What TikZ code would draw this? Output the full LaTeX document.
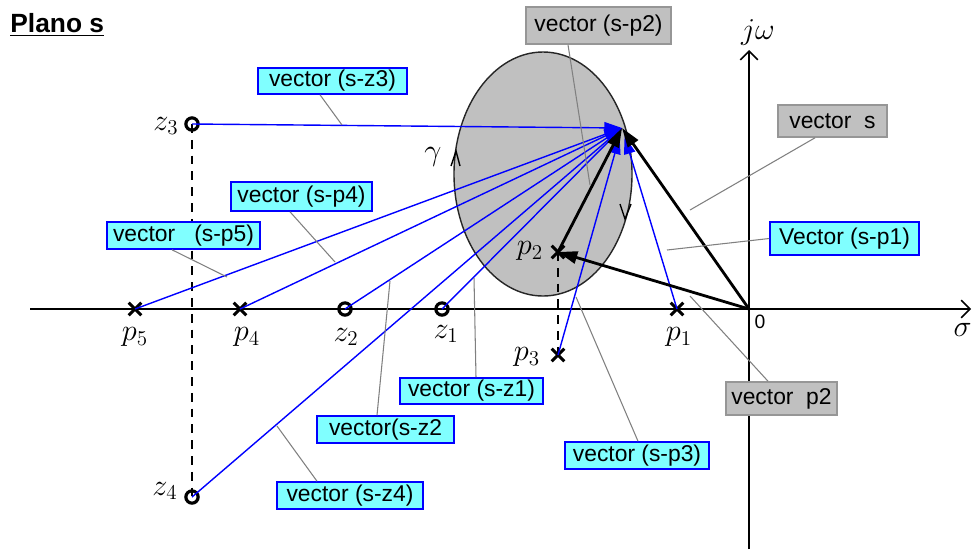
\documentclass[tikz,border=0pt]{standalone}
\usepackage{fontspec}
\setmainfont{Liberation Sans}
\usetikzlibrary{arrows.meta,shapes.misc,shapes.geometric}
\definecolor{cyanfill}{RGB}{128,255,255}
\definecolor{boxgray}{RGB}{192,192,192}
\definecolor{boxedge}{RGB}{150,150,150}
\newcommand{\pxu}{0.02cm}
\begin{document}
\begin{tikzpicture}[x=0.02cm,y=-0.02cm,
  bluevec/.style={blue, line width=0.8pt, -{Triangle[length=10pt,width=6.5pt]}},
  blackvec/.style={black, line width=1.6pt, -{Triangle[length=11pt,width=7pt]}},
  axisline/.style={black, line width=0.9pt, -{Straight Barb[length=5pt,width=10pt]}},
  dashline/.style={black, line width=0.9pt, dash pattern=on 5pt off 4pt},
  xmark/.style={cross out, draw, line width=1.7pt, minimum size=5.5pt, inner sep=0pt},
  omark/.style={circle, draw, line width=1.8pt, minimum size=7pt, inner sep=0pt},
  cyanbox/.style={draw=blue, fill=cyanfill, line width=0.9pt, inner sep=0pt, font=\fontsize{13}{15}\selectfont},
  graybox/.style={draw=boxedge, fill=boxgray, line width=0.9pt, inner sep=0pt, font=\fontsize{13}{15}\selectfont},
  leader/.style={gray, line width=0.6pt},
  mathlbl/.style={inner sep=0pt, font=\fontsize{18}{20}\selectfont},
  chevron/.style={black, line width=0.8pt},
]
\useasboundingbox[fill=white] (0,0) rectangle (973,549);

% region (ellipse)
\node[ellipse, draw=black!85, fill=boxgray, line width=0.8pt, inner sep=0pt,
      minimum width=178*\pxu, minimum height=244*\pxu] (region) at (543,174) {};

% gamma direction chevrons
\draw[chevron] (451,166) -- (456,151) -- (460,166);
\draw[chevron] (620,204) -- (625,219) -- (631,204);
\node[mathlbl] (gamma) at (433,157) {$\gamma$};

% axes
\coordinate (O) at (749,309);
\coordinate (xleft) at (30,309);
\coordinate (xright) at (971,309);
\coordinate (ybottom) at (749,549);
\coordinate (ytop) at (749,50);
\draw[axisline] (xleft) -- (xright);
\draw[axisline] (ybottom) -- (ytop);
\node[mathlbl] (jw) at (758,32) {$j\omega$};
\node[mathlbl, anchor=east] (sigma) at (972,330) {$\sigma$};
\node[inner sep=0pt, font=\fontsize{11}{12}\selectfont] (zero) at (760,322) {0};

% point s
\coordinate (s) at (622,128);

% poles and zeros
\node[omark] (z3) at (192,124) {};
\node[omark] (z4) at (192,497) {};
\node[xmark] (p5) at (135,309) {};
\node[xmark] (p4) at (240,309) {};
\node[omark] (z2) at (345,309) {};
\node[omark] (z1) at (442,309) {};
\node[xmark] (p2) at (558,252) {};
\node[xmark] (p3) at (558,355) {};
\node[xmark] (p1) at (677,309) {};

\node[mathlbl] (lz3) at (166,126) {$z_3$};
\node[mathlbl] (lz4) at (165,491) {$z_4$};
\node[mathlbl] (lp5) at (135,337) {$p_5$};
\node[mathlbl] (lp4) at (247,337) {$p_4$};
\node[mathlbl] (lz2) at (346,337) {$z_2$};
\node[mathlbl] (lz1) at (446,334) {$z_1$};
\node[mathlbl] (lp1) at (679,337) {$p_1$};
\node[mathlbl] (lp2) at (530,251) {$p_2$};
\node[mathlbl] (lp3) at (527,357) {$p_3$};

% dashed projections
\draw[dashline] (z3.center) -- (z4.center);
\draw[dashline] (p2.center) -- (p3.center);

% blue vectors
\draw[bluevec] (z3.center) -- (s);
\draw[bluevec] (z4.center) -- (s);
\draw[bluevec] (p5.center) -- (s);
\draw[bluevec] (p4.center) -- (s);
\draw[bluevec] (z2.center) -- (s);
\draw[bluevec] (z1.center) -- (s);
\draw[bluevec, shorten >=5pt] (p3.center) -- (s);
\draw[bluevec, shorten >=5pt] (p1.center) -- (s);

% black vectors
\draw[blackvec] (O) -- (s);
\draw[blackvec] (O) -- (p2.center);
\draw[blackvec] (p2.center) -- (s);

% leader end points
\coordinate (esz3) at (342,125);
\coordinate (esp4) at (335,262);
\coordinate (esp5) at (227,277);
\coordinate (esp2) at (590,185);
\coordinate (es) at (690,210);
\coordinate (esp1) at (667,250);
\coordinate (ep2) at (690,296);
\coordinate (esp3) at (576,297);
\coordinate (esz1) at (474,278);
\coordinate (esz2) at (390,281);
\coordinate (esz4) at (277,426);

% labels
\node[cyanbox, minimum width=149*\pxu, minimum height=26*\pxu] (bsz3) at (332.5,81) {vector (s-z3)};
\node[cyanbox, minimum width=141*\pxu, minimum height=29*\pxu] (bsp4) at (301.5,196.5) {vector (s-p4)};
\node[cyanbox, minimum width=153*\pxu, minimum height=27*\pxu] (bsp5) at (183.5,235.5) {vector\ \ \ (s-p5)};
\node[graybox, minimum width=145*\pxu, minimum height=37*\pxu] (bsp2) at (598.5,25.5) {vector (s-p2)};
\node[graybox, minimum width=109*\pxu, minimum height=32*\pxu] (bs) at (832.5,121) {vector\ \ s};
\node[cyanbox, minimum width=149*\pxu, minimum height=33*\pxu] (bsp1) at (844.5,238.5) {Vector (s-p1)};
\node[graybox, minimum width=111*\pxu, minimum height=33*\pxu] (bp2) at (781.5,398.5) {vector\ \ p2};
\node[cyanbox, minimum width=144*\pxu, minimum height=27*\pxu] (bsp3) at (637,455.5) {vector (s-p3)};
\node[cyanbox, minimum width=143*\pxu, minimum height=26*\pxu] (bsz1) at (471.5,391) {vector (s-z1)};
\node[cyanbox, minimum width=137*\pxu, minimum height=27*\pxu] (bsz2) at (385.5,429.5) {vector(s-z2};
\node[cyanbox, minimum width=146*\pxu, minimum height=27*\pxu] (bsz4) at (350,495.5) {vector (s-z4)};

% leaders
\draw[leader] (bsz3.south -| 320,0) -- (esz3);
\draw[leader] (bsp4.south -| 290,0) -- (esp4);
\draw[leader] (bsp5.south -| 172,0) -- (esp5);
\draw[leader] (bsp2.south -| 568,0) -- (esp2);
\draw[leader] (bs.south -| 815,0) -- (es);
\draw[leader] (bsp1.west) -- (esp1);
\draw[leader] (bp2.north -| 768,0) -- (ep2);
\draw[leader] (bsp3.north -| 638,0) -- (esp3);
\draw[leader] (bsz1.north -| 476,0) -- (esz1);
\draw[leader] (bsz2.north -| 377,0) -- (esz2);
\draw[leader] (bsz4.north -| 317,0) -- (esz4);

% title
\node[anchor=west, inner sep=0pt, font=\bfseries\fontsize{15}{17}\selectfont] (title) at (10,25) {\underline{Plano s}};
\end{tikzpicture}
\end{document}
